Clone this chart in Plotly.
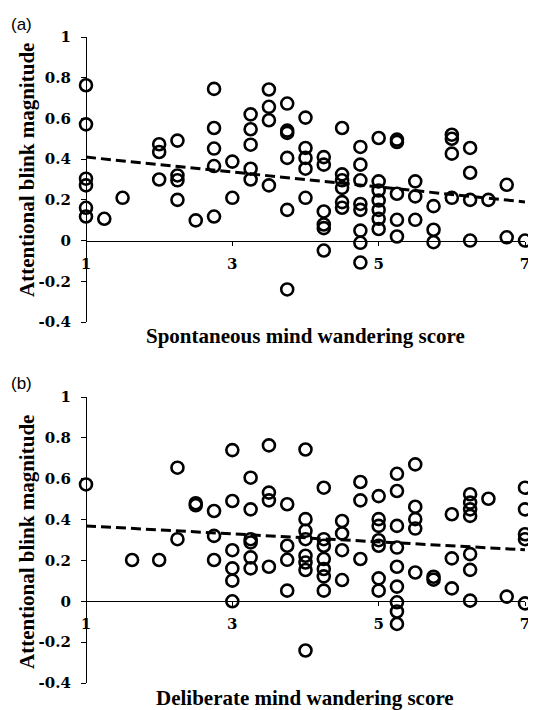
import plotly.graph_objects as go

# ---------------- data ----------------
spont_x = [1, 1, 1, 1, 1, 1,
           1.25, 1.5,
           2.0, 2.0, 2.0,
           2.25, 2.25, 2.25, 2.25,
           2.5,
           2.75, 2.75, 2.75, 2.75, 2.75,
           3.0, 3.0,
           3.25, 3.25, 3.25, 3.25, 3.25,
           3.5, 3.5, 3.5, 3.5,
           3.75, 3.75, 3.75, 3.75, 3.75, 3.75,
           4.0, 4.0, 4.0, 4.0, 4.0,
           4.25, 4.25, 4.25, 4.25, 4.25, 4.25,
           4.5, 4.5, 4.5, 4.5, 4.5, 4.5,
           4.75, 4.75, 4.75, 4.75, 4.75, 4.75, 4.75, 4.75,
           5.0, 5.0, 5.0, 5.0, 5.0, 5.0, 5.0,
           5.25, 5.25, 5.25, 5.25, 5.25,
           5.5, 5.5, 5.5,
           5.75, 5.75, 5.75,
           6.0, 6.0, 6.0, 6.0,
           6.25, 6.25, 6.25, 6.25,
           6.5,
           6.75, 6.75,
           7.0]
spont_y = [0.763, 0.571, 0.304, 0.271, 0.161, 0.118,
           0.107, 0.21,
           0.473, 0.435, 0.30,
           0.491, 0.32, 0.296, 0.20,
           0.099,
           0.745, 0.553, 0.452, 0.366, 0.118,
           0.388, 0.21,
           0.62, 0.547, 0.471, 0.353, 0.30,
           0.742, 0.657, 0.591, 0.271,
           0.673, 0.529, 0.54, 0.406, 0.151, -0.24,
           0.604, 0.455, 0.406, 0.353, 0.21,
           0.41, 0.373, 0.143, 0.079, 0.061, -0.049,
           0.553, 0.325, 0.296, 0.259, 0.189, 0.161,
           0.46, 0.373, 0.296, 0.18, 0.151, 0.049, -0.011, -0.108,
           0.504, 0.291, 0.246, 0.197, 0.151, 0.107, 0.057,
           0.496, 0.484, 0.23, 0.102, 0.02,
           0.291, 0.217, 0.102,
           0.169, 0.053, -0.008,
           0.52, 0.50, 0.427, 0.21,
           0.455, 0.333, 0.20, 0.0,
           0.20,
           0.274, 0.016,
           0.0]

delib_x = [1.0,
           1.63, 2.0,
           2.25, 2.25,
           2.5, 2.5,
           2.75, 2.75, 2.75,
           3.0, 3.0, 3.0, 3.0, 3.0, 3.0,
           3.25, 3.25, 3.25, 3.25, 3.25, 3.25,
           3.5, 3.5, 3.5, 3.5,
           3.75, 3.75, 3.75, 3.75,
           4.0, 4.0, 4.0, 4.0, 4.0, 4.0, 4.0, 4.0,
           4.25, 4.25, 4.25, 4.25, 4.25, 4.25, 4.25,
           4.5, 4.5, 4.5, 4.5,
           4.75, 4.75, 4.75,
           5.0, 5.0, 5.0, 5.0, 5.0, 5.0, 5.0,
           5.25, 5.25, 5.25, 5.25, 5.25, 5.25, 5.25, 5.25, 5.25,
           5.5, 5.5, 5.5, 5.5, 5.5,
           5.75, 5.75,
           6.0, 6.0, 6.0,
           6.25, 6.25, 6.25, 6.25, 6.25, 6.25, 6.25,
           6.5,
           6.75,
           7.0, 7.0, 7.0, 7.0, 7.0]
delib_y = [0.572,
           0.202, 0.202,
           0.654, 0.304,
           0.48, 0.47,
           0.442, 0.32, 0.202,
           0.74, 0.491, 0.25, 0.161, 0.101, 0.0,
           0.605, 0.45, 0.304, 0.288, 0.215, 0.161,
           0.763, 0.532, 0.494, 0.169,
           0.475, 0.272, 0.203, 0.052,
           0.743, 0.402, 0.345, 0.304, 0.223, 0.19, 0.153, -0.241,
           0.556, 0.304, 0.272, 0.207, 0.158, 0.122, 0.052,
           0.393, 0.332, 0.25, 0.104,
           0.584, 0.494, 0.207,
           0.515, 0.402, 0.369, 0.299, 0.272, 0.112, 0.052,
           0.624, 0.54, 0.369, 0.263, 0.169, 0.072, -0.005, -0.05, -0.111,
           0.67, 0.463, 0.402, 0.356, 0.141,
           0.12, 0.106,
           0.426, 0.21, 0.063,
           0.524, 0.483, 0.45, 0.418, 0.231, 0.154, 0.003,
           0.502,
           0.023,
           0.556, 0.45, 0.328, 0.304, -0.01]

trend_x = [1, 7]
trend_spont_y = [0.41, 0.19]
trend_delib_y = [0.369, 0.252]

x_tickvals = [1, 3, 5, 7]
x_ticktext = ["1", "3", "5", "7"]
y_tickvals = [1, 0.8, 0.6, 0.4, 0.2, 0, -0.2, -0.4]
y_ticktext = ["1", "0.8", "0.6", "0.4", "0.2", "0", "-0.2", "-0.4"]

x_title_a = "Spontaneous mind wandering score"
x_title_b = "Deliberate mind wandering score"
y_title = "Attentional blink magnitude"

# ---------------- layout geometry ----------------
# the page body has an 8px margin, so the figure is drawn 8px in from the window corner
OFF = 8
W, H = 536 - OFF, 710 - OFF


def fx(p):  # window pixel x -> paper fraction
    return (p - OFF) / W


def fy(p):  # window pixel y -> paper fraction
    return 1 - (p - OFF) / H


x_dom = [fx(86), fx(525)]
y_dom_a = [fy(322), fy(37)]
y_dom_b = [fy(683), fy(397)]
y_range = [-0.4, 1.0]
x_range = [1, 7]


def zero_pos(dom):
    return dom[0] + (0 - y_range[0]) / (y_range[1] - y_range[0]) * (dom[1] - dom[0])


tick_font = dict(family="DejaVu Serif", size=15, color="black", weight="bold")
title_font = dict(family="Liberation Serif", size=21, color="black", weight="bold")
label_font = dict(family="Liberation Sans", size=17, color="black")

marker = dict(symbol="circle-open", size=12, color="black", line=dict(width=2.6, color="black"))
dash_line = dict(color="black", width=3, dash="10px,5px")

fig = go.Figure()
fig.add_trace(go.Scatter(x=spont_x, y=spont_y, mode="markers", marker=marker,
                         xaxis="x", yaxis="y", cliponaxis=False, showlegend=False))
fig.add_trace(go.Scatter(x=trend_x, y=trend_spont_y, mode="lines", line=dash_line,
                         xaxis="x", yaxis="y", cliponaxis=False, showlegend=False))
fig.add_trace(go.Scatter(x=delib_x, y=delib_y, mode="markers", marker=marker,
                         xaxis="x2", yaxis="y2", cliponaxis=False, showlegend=False))
fig.add_trace(go.Scatter(x=trend_x, y=trend_delib_y, mode="lines", line=dash_line,
                         xaxis="x2", yaxis="y2", cliponaxis=False, showlegend=False))

xaxis_common = dict(range=x_range, domain=x_dom, anchor="free", showgrid=False, zeroline=False,
                    showline=True, linecolor="black", linewidth=1.2,
                    ticks="outside", ticklen=4, tickwidth=1, tickcolor="black",
                    tickvals=x_tickvals, ticktext=x_ticktext, tickfont=tick_font,
                    ticklabelstandoff=5, automargin=False)
yaxis_common = dict(range=y_range, showgrid=False, zeroline=False,
                    showline=True, linecolor="black", linewidth=1.2,
                    ticks="outside", ticklen=5, tickwidth=1, tickcolor="black",
                    tickvals=y_tickvals, ticktext=y_ticktext, tickfont=tick_font,
                    ticklabelstandoff=7, automargin=False, anchor="free", position=x_dom[0])

fig.update_layout(
    width=W, height=H,
    margin=dict(l=0, r=0, t=0, b=0),
    paper_bgcolor="white", plot_bgcolor="rgba(0,0,0,0)",
    xaxis=dict(**xaxis_common, position=zero_pos(y_dom_a)),
    yaxis=dict(**yaxis_common, domain=y_dom_a),
    xaxis2=dict(**xaxis_common, position=zero_pos(y_dom_b)),
    yaxis2=dict(**yaxis_common, domain=y_dom_b),
)

ann = [
    dict(text="(a)", x=fx(9), y=fy(25), xanchor="left", yanchor="middle", font=label_font),
    dict(text="(b)", x=fx(9), y=fy(383), xanchor="left", yanchor="middle", font=label_font),
    dict(text=x_title_a, x=fx(305), y=fy(336), xanchor="center", yanchor="middle", font=title_font),
    dict(text=x_title_b, x=fx(305), y=fy(698), xanchor="center", yanchor="middle", font=title_font),
    dict(text=y_title, x=fx(27), y=fy(170), xanchor="center", yanchor="middle",
         textangle=-90, font=title_font),
    dict(text=y_title, x=fx(27), y=fy(542), xanchor="center", yanchor="middle",
         textangle=-90, font=title_font),
]
for a in ann:
    a.update(xref="paper", yref="paper", showarrow=False)
fig.update_layout(annotations=ann)

fig.write_html("out.html")
